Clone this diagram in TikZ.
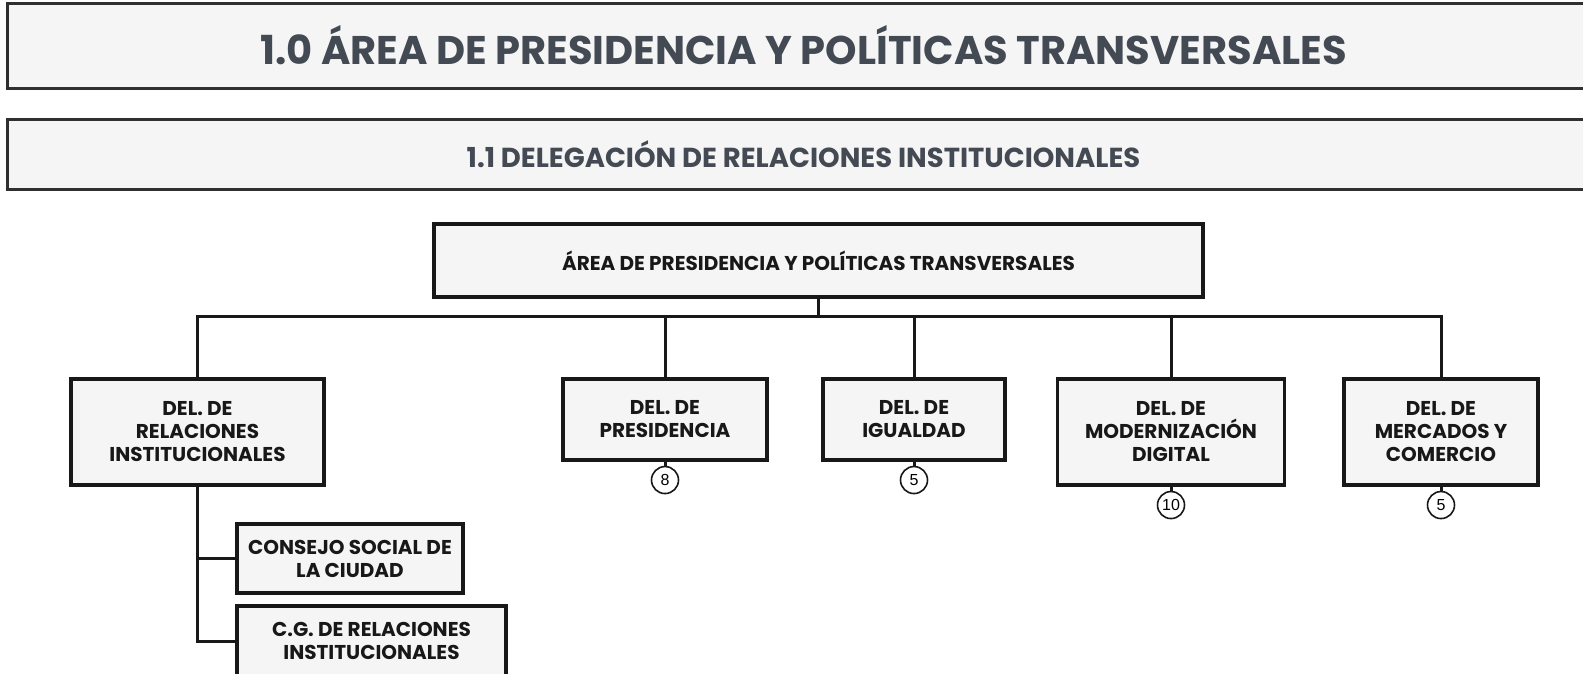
\documentclass[tikz,border=0pt]{standalone}
\usepackage{fontspec}
\setmainfont{Poppins}
\newfontfamily\numfont{Liberation Sans}
\usetikzlibrary{positioning}
\definecolor{boxfill}{RGB}{246,245,245}
\definecolor{boxline}{RGB}{24,24,24}
\definecolor{bannerline}{RGB}{48,48,48}
\definecolor{bannertext}{RGB}{67,74,84}

\begin{document}
\begin{tikzpicture}[
    x=1pt, y=-1pt,
    banner/.style={
        draw=bannerline, fill=boxfill, line width=3pt,
        minimum width=1593pt, inner sep=0pt, text=bannertext
    },
    unit/.style={
        draw=boxline, fill=boxfill, line width=3.5pt, inner sep=0pt,
        align=center, text=boxline,
        font=\fontsize{20}{23}\selectfont\bfseries
    },
    count/.style={
        circle, draw=boxline, fill=white, line width=1.6pt,
        minimum size=27pt, inner sep=0pt,
        font=\numfont\fontsize{16}{16}\selectfont
    },
    link/.style={draw=boxline, line width=3pt}
]
\useasboundingbox (0,0) rectangle (1583,673);

% =================== Banners ===================
\node[banner, minimum height=85pt, font=\fontsize{40}{40}\selectfont\bfseries]
    (title) at (803.5,45.5) {1.0 ÁREA DE PRESIDENCIA Y POLÍTICAS TRANSVERSALES};
\node[banner, minimum height=70pt, font=\fontsize{27.5}{27.5}\selectfont\bfseries]
    (subtitle) at (803.5,154) {1.1 DELEGACIÓN DE RELACIONES INSTITUCIONALES};

% =================== Area ===================
\node[unit, minimum width=769pt, minimum height=73pt] (area) at (818.5,260.5)
    {ÁREA DE PRESIDENCIA Y POLÍTICAS TRANSVERSALES};
\coordinate (bar) at (818.5,316);

% =================== Delegaciones ===================
\node[unit, minimum width=253pt, minimum height=106pt] (rel) at (197.5,432)
    {DEL. DE\\RELACIONES\\INSTITUCIONALES};
\node[unit, minimum width=204pt, minimum height=81pt] (pres) at (665,419.5)
    {DEL. DE\\PRESIDENCIA};
\node[unit, minimum width=182pt, minimum height=81pt] (igu) at (914,419.5)
    {DEL. DE\\IGUALDAD};
\node[unit, minimum width=227pt, minimum height=106pt] (mod) at (1171,432)
    {DEL. DE\\MODERNIZACIÓN\\DIGITAL};
\node[unit, minimum width=194pt, minimum height=106pt] (merc) at (1441,432)
    {DEL. DE\\MERCADOS Y\\COMERCIO};

% Counts
\node[count, below=4pt of pres] (pres-n) {8};
\node[count, below=4pt of igu] (igu-n) {5};
\node[count, below=4pt of mod] (mod-n) {10};
\node[count, below=4pt of merc] (merc-n) {5};

% =================== Dependencias ===================
\node[unit, minimum width=226pt, minimum height=69pt] (consejo) at (350,558.5)
    {CONSEJO SOCIAL DE\\LA CIUDAD};
\node[unit, minimum width=269pt, minimum height=70pt] (cgri) at (371.5,641)
    {C.G. DE RELACIONES\\INSTITUCIONALES};

% =================== Connectors ===================
\draw[link] (area.south) -- (bar);
\draw[link] (rel.north) |- (merc.north |- bar) -- (merc.north);
\foreach \d in {pres, igu, mod}
    \draw[link] (\d.north) -- (\d.north |- bar);
\foreach \d in {pres, igu, mod, merc}
    \draw[link] (\d.south) -- (\d-n.north);
\draw[link] (rel.south) |- (cgri.west);
\draw[link] (consejo.west) -- (consejo.west -| rel.south);

\end{tikzpicture}
\end{document}
